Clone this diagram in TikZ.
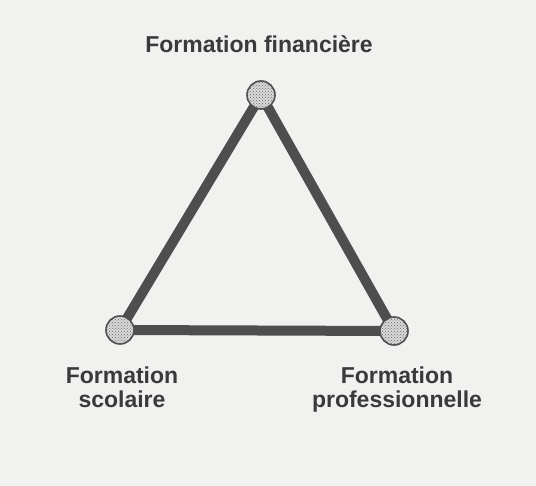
\documentclass[tikz,border=0pt]{standalone}
\usepackage{fontspec}
\setmainfont{Liberation Sans}
\usetikzlibrary{patterns}
\definecolor{paper}{HTML}{F1F1F0}
\definecolor{ink}{HTML}{3A3A3A}
\definecolor{edgecol}{HTML}{4E4E4E}
\tikzset{
  dot/.style={circle, minimum size=28pt, inner sep=0pt, draw=edgecol, line width=1.6pt,
    fill=gray!30, postaction={pattern=crosshatch dots, pattern color=gray!80!black}},
  link/.style={draw=edgecol, line width=10pt, line join=round},
  lab/.style={font=\fontsize{23}{24}\selectfont\bfseries, text=ink, align=center, inner sep=0pt}
}
\begin{document}
\begin{tikzpicture}[x=1pt,y=-1pt]
\fill[paper] (0,0) rectangle (536,486);
\useasboundingbox (0,0) rectangle (536,486);
\coordinate (top) at (261,95);
\coordinate (bl) at (120,330);
\coordinate (br) at (394,331);
\draw[link] (top) -- (bl) -- (br) -- cycle;
\node[dot] (A) at (top) {};
\node[dot] (B) at (bl) {};
\node[dot] (C) at (br) {};
\node[lab, anchor=base] (LA) at (259,53) {Formation financière};
\node[lab, anchor=base] (LB) at (122,408) {Formation\\scolaire};
\node[lab, anchor=base] (LC) at (397,408) {Formation\\professionnelle};
\end{tikzpicture}
\end{document}
